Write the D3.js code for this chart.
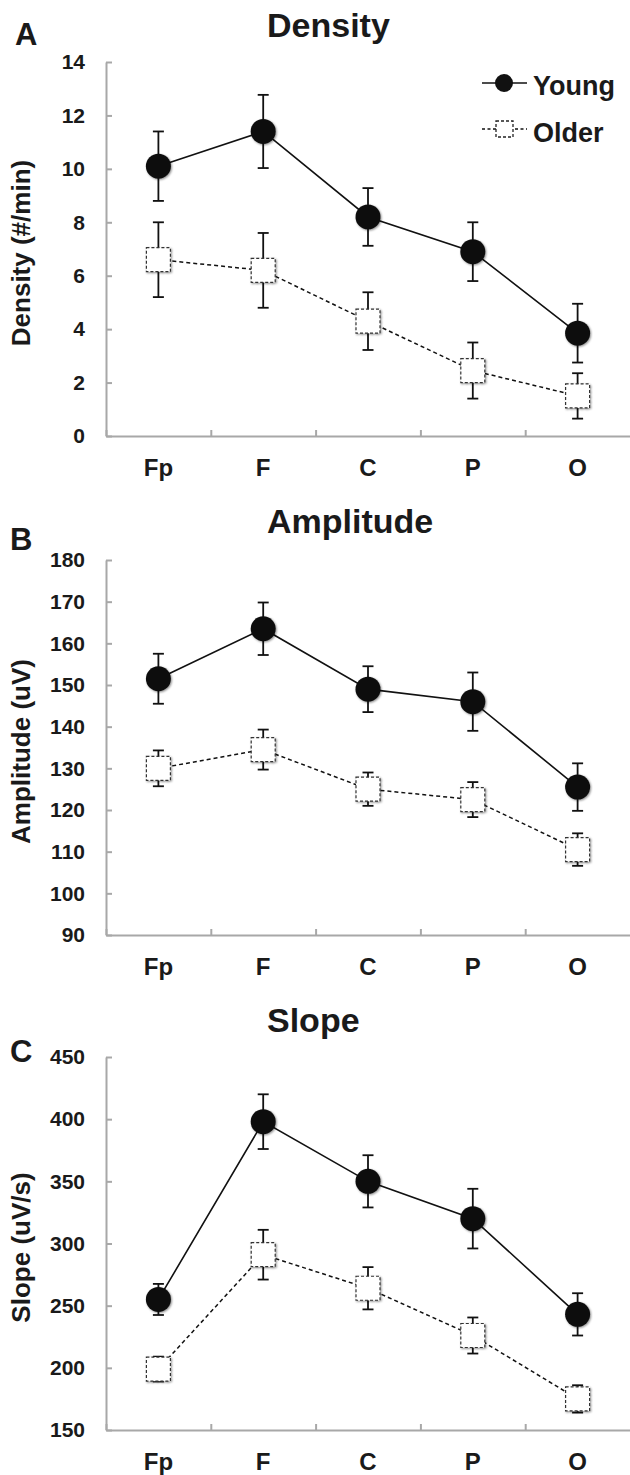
<!DOCTYPE html>
<html>
<head>
<meta charset="utf-8">
<script src="https://cdn.jsdelivr.net/npm/d3@7"></script>
<style>
  body { margin: 0; background: #fff; }
  svg text { font-family: "Liberation Sans", Arial, sans-serif; font-weight: bold; fill: #1a1a1a; }
</style>
</head>
<body>
<div id="chart"></div>
<script>
// electrode sites along the x axis
const sites = ["Fp", "F", "C", "P", "O"];
const groups = ["Young", "Older"];

// panel A: density (#/min)
const density_young = [10.1, 11.4, 8.2, 6.9, 3.85];
const density_young_err = [1.3, 1.37, 1.08, 1.1, 1.1];
const density_older = [6.6, 6.2, 4.3, 2.45, 1.5];
const density_older_err = [1.4, 1.4, 1.08, 1.05, 0.85];

// panel B: amplitude (uV)
const amp_young = [151.5, 163.5, 149, 146, 125.5];
const amp_young_err = [6, 6.3, 5.5, 7, 5.7];
const amp_older = [130, 134.5, 125, 122.5, 110.5];
const amp_older_err = [4.3, 4.8, 4, 4.2, 3.9];

// panel C: slope (uV/s)
const slope_young = [255, 398, 350, 320, 243];
const slope_young_err = [12.5, 22, 21, 24, 17];
const slope_older = [199, 291, 264, 226, 175];
const slope_older_err = [10, 20, 17, 14.5, 11];

const panels = [
  { letter: "A", title: "Density", ylabel: "Density (#/min)", domain: [0, 14], step: 2,
    young: density_young, young_err: density_young_err, older: density_older, older_err: density_older_err,
    top: 62, bottom: 436, titleY: 37, letterX: 15, letterY: 45, legend: true },
  { letter: "B", title: "Amplitude", ylabel: "Amplitude (uV)", domain: [90, 180], step: 10,
    young: amp_young, young_err: amp_young_err, older: amp_older, older_err: amp_older_err,
    top: 560, bottom: 935, titleY: 533, letterX: 10, letterY: 550, legend: false },
  { letter: "C", title: "Slope", ylabel: "Slope (uV/s)", domain: [150, 450], step: 50,
    young: slope_young, young_err: slope_young_err, older: slope_older, older_err: slope_older_err,
    top: 1057, bottom: 1430, titleY: 1032, letterX: 10, letterY: 1062, legend: false }
];

const width = 630, height = 1475;
const axis_left = 106, axis_right = 630;
const axis_color = "#a8a8a8";

const svg = d3.select("#chart").append("svg")
  .attr("width", width)
  .attr("height", height);

// soft shadow like the original markers
const defs = svg.append("defs");
const shadow = defs.append("filter").attr("id", "shadow")
  .attr("x", "-50%").attr("y", "-50%").attr("width", "200%").attr("height", "200%");
shadow.append("feDropShadow")
  .attr("dx", 1).attr("dy", 1).attr("stdDeviation", 1.3)
  .attr("flood-color", "#000").attr("flood-opacity", 0.45);

const x_band = d3.scaleBand().domain(sites).range([axis_left, axis_right]);
const x_bound = d3.scaleLinear().domain([0, sites.length]).range([axis_left, axis_right]);
const cx = d => x_band(d) + x_band.bandwidth() / 2;

panels.forEach(p => {
  const y = d3.scaleLinear().domain(p.domain).range([p.bottom, p.top]);
  const g = svg.append("g");

  // panel letter and title
  g.append("text").attr("x", p.letterX).attr("y", p.letterY)
    .style("font-size", "31px").text(p.letter);
  g.append("text").attr("x", 267).attr("y", p.titleY)
    .style("font-size", "34px").text(p.title);

  // y axis, ticks pointing inward
  const ticks = d3.range(p.domain[0], p.domain[1] + p.step / 2, p.step);
  const y_axis = g.append("g")
    .attr("transform", "translate(" + axis_left + ",0)")
    .call(d3.axisLeft(y).tickValues(ticks).tickSizeInner(-6).tickSizeOuter(0).tickPadding(21));
  y_axis.select(".domain").attr("stroke", axis_color).attr("stroke-width", 2);
  y_axis.selectAll(".tick line").attr("stroke", axis_color).attr("stroke-width", 2);
  y_axis.selectAll(".tick text")
    .style("font-size", "21px").attr("fill", "#1a1a1a")
    .style("font-family", "'Liberation Sans', Arial, sans-serif").style("font-weight", "bold");

  // x axis with boundary ticks
  const x_axis = g.append("g")
    .attr("transform", "translate(0," + p.bottom + ")")
    .call(d3.axisBottom(x_bound).tickValues(d3.range(0, sites.length)).tickSizeInner(-6).tickSizeOuter(0).tickFormat(""));
  x_axis.select(".domain").attr("stroke", axis_color).attr("stroke-width", 2);
  x_axis.selectAll(".tick line").attr("stroke", axis_color).attr("stroke-width", 2);

  // category labels
  const x_labels = g.append("g")
    .attr("transform", "translate(0," + p.bottom + ")")
    .call(d3.axisBottom(x_band).tickSize(0).tickPadding(23));
  x_labels.select(".domain").remove();
  x_labels.selectAll(".tick text")
    .style("font-size", "24px").attr("fill", "#1a1a1a")
    .style("font-family", "'Liberation Sans', Arial, sans-serif").style("font-weight", "bold");

  // y axis title
  g.append("text")
    .attr("transform", "translate(30," + ((p.top + p.bottom) / 2 + 4) + ") rotate(-90)")
    .attr("text-anchor", "middle")
    .style("font-size", "26px")
    .text(p.ylabel);

  const series = [
    { name: "Young", vals: p.young, err: p.young_err },
    { name: "Older", vals: p.older, err: p.older_err }
  ];

  // error bars
  series.forEach(s => {
    const eb = g.append("g").attr("stroke", "#111").attr("stroke-width", 1.8);
    sites.forEach((site, i) => {
      const x = cx(site);
      const hi = y(s.vals[i] + s.err[i]), lo = y(s.vals[i] - s.err[i]);
      eb.append("line").attr("x1", x).attr("x2", x).attr("y1", hi).attr("y2", lo);
      eb.append("line").attr("x1", x - 5.5).attr("x2", x + 5.5).attr("y1", hi).attr("y2", hi);
      eb.append("line").attr("x1", x - 5.5).attr("x2", x + 5.5).attr("y1", lo).attr("y2", lo);
    });
  });

  // connecting lines
  const line = d3.line().x((d, i) => cx(sites[i])).y(d => y(d));
  g.append("path").datum(p.young).attr("d", line)
    .attr("fill", "none").attr("stroke", "#111").attr("stroke-width", 1.6);
  g.append("path").datum(p.older).attr("d", line)
    .attr("fill", "none").attr("stroke", "#111").attr("stroke-width", 1.5)
    .attr("stroke-dasharray", "4,3");

  // markers
  g.selectAll(".young_pt").data(p.young).enter().append("circle")
    .attr("class", "young_pt")
    .attr("cx", (d, i) => cx(sites[i])).attr("cy", d => y(d)).attr("r", 12.5)
    .attr("fill", "#111").attr("filter", "url(#shadow)");
  g.selectAll(".older_pt").data(p.older).enter().append("rect")
    .attr("class", "older_pt")
    .attr("x", (d, i) => cx(sites[i]) - 12).attr("y", d => y(d) - 12)
    .attr("width", 24).attr("height", 24)
    .attr("fill", "#fff").attr("stroke", "#333").attr("stroke-width", 1.2)
    .attr("stroke-dasharray", "3,2").attr("filter", "url(#shadow)");

  // legend (top panel only)
  if (p.legend) {
    const lg = svg.append("g");
    lg.append("line").attr("x1", 482).attr("x2", 527).attr("y1", 83).attr("y2", 83)
      .attr("stroke", "#111").attr("stroke-width", 1.6);
    lg.append("circle").attr("cx", 504).attr("cy", 83).attr("r", 9).attr("fill", "#111");
    lg.append("text").attr("x", 533).attr("y", 95).style("font-size", "27px").text(groups[0]);
    lg.append("line").attr("x1", 482).attr("x2", 527).attr("y1", 129).attr("y2", 129)
      .attr("stroke", "#111").attr("stroke-width", 1.3).attr("stroke-dasharray", "3,2.5");
    lg.append("rect").attr("x", 496).attr("y", 121).attr("width", 17).attr("height", 16)
      .attr("fill", "#fff").attr("stroke", "#222").attr("stroke-width", 1.3)
      .attr("stroke-dasharray", "3,2");
    lg.append("text").attr("x", 533).attr("y", 142).style("font-size", "27px").text(groups[1]);
  }
});
</script>
</body>
</html>
